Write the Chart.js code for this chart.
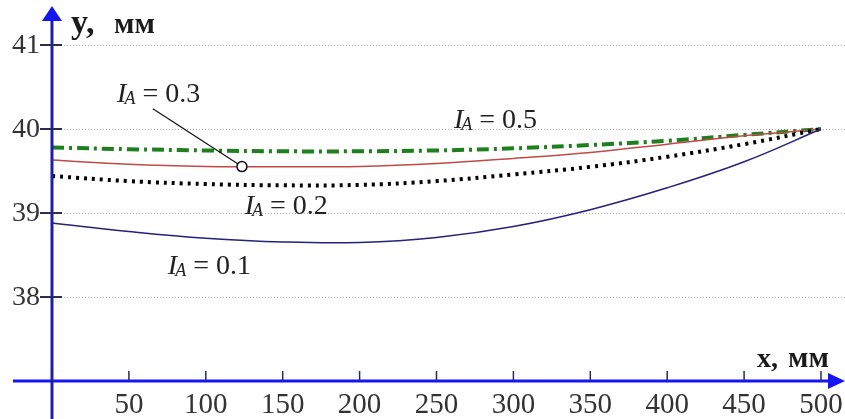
<!DOCTYPE html>
<html>
<head>
<meta charset="utf-8">
<script src="https://cdn.jsdelivr.net/npm/chart.js@4/dist/chart.umd.min.js"></script>
<style>
  html, body { margin: 0; padding: 0; background: #fff; }
  canvas { display: block; }
</style>
</head>
<body>
<canvas id="chart" width="845" height="419"></canvas>
<script>
/* ========= DATA ========= */
const xValues = [0, 50, 100, 150, 200, 250, 300, 350, 400, 450, 500];
const yIA01 = [38.88, 38.78, 38.70, 38.655, 38.65, 38.71, 38.84, 39.04, 39.30, 39.61, 40.00];
const yIA02 = [39.44, 39.38, 39.345, 39.33, 39.335, 39.38, 39.46, 39.55, 39.67, 39.82, 40.00];
const yIA03 = [39.63, 39.58, 39.555, 39.55, 39.555, 39.59, 39.65, 39.72, 39.82, 39.92, 40.00];
const yIA05 = [39.78, 39.76, 39.745, 39.735, 39.735, 39.745, 39.77, 39.81, 39.86, 39.93, 40.00];
const xTicks = [50, 100, 150, 200, 250, 300, 350, 400, 450, 500];
const yTicks = [38, 39, 40, 41];
const curveNames = ["0.1", "0.2", "0.3", "0.5"];

const pts = arr => xValues.map((x, i) => ({ x, y: arr[i] }));

/* ========= DRAWING HELPERS ========= */
const SERIF = "'Times New Roman', 'Liberation Serif', serif";

function drawIA(ctx, value, cx, base) {
  const fMain = "italic 28px " + SERIF;
  const fSub = "italic 18px " + SERIF;
  const fRest = "28px " + SERIF;
  const rest = " = " + value;
  ctx.font = fMain; const wI = ctx.measureText("I").width;
  ctx.font = fSub; const wA = ctx.measureText("A").width;
  ctx.font = fRest; const wR = ctx.measureText(rest).width;
  let x = cx - (wI + wA + wR) / 2;
  ctx.fillStyle = "#222";
  ctx.textBaseline = "alphabetic";
  ctx.textAlign = "left";
  ctx.font = fMain; ctx.fillText("I", x, base); x += wI - 2;
  ctx.font = fSub; ctx.fillText("A", x, base + 2); x += wA;
  ctx.font = fRest; ctx.fillText(rest, x, base);
}

const axesPlugin = {
  id: "axesPlugin",
  beforeDatasetsDraw(chart) {
    const { ctx, scales: { x, y }, width } = chart;
    const x0 = x.getPixelForValue(0);
    ctx.save();
    ctx.strokeStyle = "#b0b0b0";
    ctx.lineWidth = 1;
    ctx.setLineDash([1, 2]);
    yTicks.forEach(v => {
      const py = Math.round(y.getPixelForValue(v)) + 0.5;
      ctx.beginPath(); ctx.moveTo(x0, py); ctx.lineTo(width, py); ctx.stroke();
    });
    ctx.restore();
  },
  afterDatasetsDraw(chart) {
    const { ctx, scales: { x, y }, width, height } = chart;
    const x0 = x.getPixelForValue(0);
    const y0 = y.getPixelForValue(37);
    ctx.save();

    // x axis
    ctx.strokeStyle = "#1515f5"; ctx.fillStyle = "#1515f5"; ctx.lineWidth = 3;
    ctx.beginPath(); ctx.moveTo(13, y0); ctx.lineTo(width - 12, y0); ctx.stroke();
    ctx.beginPath(); ctx.moveTo(width, y0); ctx.lineTo(width - 17, y0 - 8); ctx.lineTo(width - 17, y0 + 8); ctx.closePath(); ctx.fill();

    // y axis
    ctx.strokeStyle = "#1e1eaa"; ctx.fillStyle = "#1515f0";
    ctx.beginPath(); ctx.moveTo(x0, height); ctx.lineTo(x0, 18); ctx.stroke();
    ctx.beginPath(); ctx.moveTo(x0, 6); ctx.lineTo(x0 - 10, 21); ctx.lineTo(x0 + 10, 21); ctx.closePath(); ctx.fill();

    // ticks and labels
    ctx.fillStyle = "#333";
    ctx.strokeStyle = "#2a2a55"; ctx.lineWidth = 1.5;
    ctx.font = "29px " + SERIF;
    ctx.textAlign = "center"; ctx.textBaseline = "alphabetic";
    xTicks.forEach(v => {
      const px = x.getPixelForValue(v);
      ctx.beginPath(); ctx.moveTo(px, y0 - 10); ctx.lineTo(px, y0); ctx.stroke();
      ctx.fillText(String(v), px, y0 + 32);
    });
    ctx.font = "28px " + SERIF;
    ctx.textAlign = "right"; ctx.textBaseline = "middle";
    ctx.lineWidth = 2;
    yTicks.forEach(v => {
      const py = y.getPixelForValue(v);
      ctx.beginPath(); ctx.moveTo(x0 - 12, py); ctx.lineTo(x0 + 10, py); ctx.stroke();
      ctx.fillText(String(v), x0 - 12, py + 1);
    });

    // axis names
    ctx.fillStyle = "#1a1a1a"; ctx.textAlign = "left"; ctx.textBaseline = "alphabetic";
    ctx.font = "bold 34px " + SERIF; ctx.fillText("y,", 71, 33);
    ctx.font = "bold 30px " + SERIF; ctx.fillText("мм", 114, 33);
    ctx.font = "bold 28px " + SERIF; ctx.fillText("x,", 757, 367);
    ctx.font = "bold 30px " + SERIF; ctx.fillText("мм", 788, 367);

    // curve labels (baseline positions in data units)
    drawIA(ctx, curveNames[3], x.getPixelForValue(289), y.getPixelForValue(40.01));
    drawIA(ctx, curveNames[2], x.getPixelForValue(70), y.getPixelForValue(40.32));
    drawIA(ctx, curveNames[1], x.getPixelForValue(153), y.getPixelForValue(38.99));
    drawIA(ctx, curveNames[0], x.getPixelForValue(103), y.getPixelForValue(38.27));

    // leader to the IA = 0.3 curve
    const cx = x.getPixelForValue(123.5), cy = y.getPixelForValue(39.553);
    ctx.strokeStyle = "#111"; ctx.lineWidth = 1.2;
    ctx.beginPath(); ctx.moveTo(x.getPixelForValue(65.6), y.getPixelForValue(40.24)); ctx.lineTo(cx, cy); ctx.stroke();
    ctx.fillStyle = "#fff"; ctx.lineWidth = 1.5;
    ctx.beginPath(); ctx.arc(cx, cy, 5, 0, Math.PI * 2); ctx.fill(); ctx.stroke();

    ctx.restore();
  }
};

/* ========= CHART ========= */
new Chart(document.getElementById("chart"), {
  type: "line",
  data: {
    datasets: [
      { data: pts(yIA01), borderColor: "#23237a", borderWidth: 1.5 },
      { data: pts(yIA02), borderColor: "#000", borderWidth: 4, borderDash: [3, 5] },
      { data: pts(yIA03), borderColor: "#c04a48", borderWidth: 1.5 },
      { data: pts(yIA05), borderColor: "#1e7f1e", borderWidth: 4, borderDash: [12, 5, 3, 5] }
    ]
  },
  options: {
    responsive: false,
    animation: false,
    devicePixelRatio: 1,
    layout: { padding: 0 },
    elements: {
      point: { radius: 0 },
      line: { tension: 0.4, fill: false }
    },
    plugins: { legend: { display: false }, tooltip: { enabled: false } },
    scales: {
      x: { type: "linear", display: false, min: -33.8, max: 515.6 },
      y: { type: "linear", display: false, min: 36.548, max: 41.536 }
    }
  },
  plugins: [axesPlugin]
});
</script>
</body>
</html>
